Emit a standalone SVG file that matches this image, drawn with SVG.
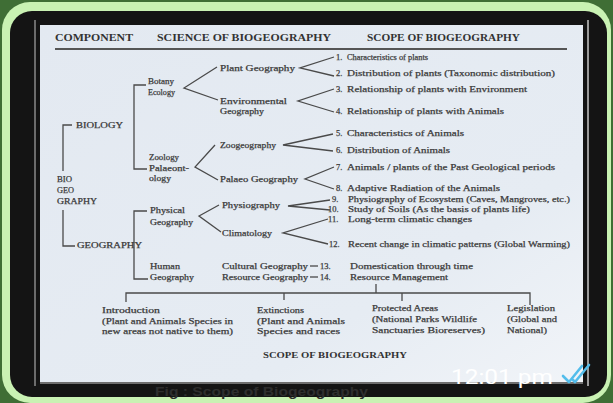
<svg xmlns="http://www.w3.org/2000/svg" width="613" height="403" viewBox="0 0 613 403">
<style>
.t{font-family:"Liberation Serif",serif;font-size:8.5px;fill:#333;stroke:#444;stroke-width:0.25;}
.h{font-family:"Liberation Serif",serif;font-size:10px;font-weight:bold;fill:#333;}
.c{fill:none;stroke:#4a4a4a;stroke-width:1.3;}
</style>
<defs>
<linearGradient id="paper" x1="0" y1="0" x2="1" y2="1">
<stop offset="0" stop-color="#e3e9f1"/>
<stop offset="0.7" stop-color="#e6ecf3"/>
<stop offset="1" stop-color="#f1f4f8"/>
</linearGradient>
</defs>
<rect width="613" height="403" fill="#3f6e35"/>
<rect x="2" y="2" width="609" height="401" rx="28" fill="#c9f2b3"/>
<rect x="10" y="11" width="597" height="386" rx="22" fill="#141414"/>
<line x1="35" y1="20" x2="35" y2="386" stroke="#8a8a8a" stroke-width="1.5"/>
<line x1="588" y1="20" x2="588" y2="386" stroke="#9a9a9a" stroke-width="2"/>
<rect x="40" y="25" width="543" height="357" fill="url(#paper)"/>
<line x1="40" y1="383" x2="583" y2="383" stroke="#8c8c8c" stroke-width="1.5"/>
<text x="155" y="396" font-family="Liberation Sans,sans-serif" font-size="12" font-weight="bold" fill="#2e2e2e" textLength="213" lengthAdjust="spacingAndGlyphs">Fig : Scope of Biogeography</text>

<g id="header">
<text class="h" x="55" y="41" textLength="78" lengthAdjust="spacingAndGlyphs">COMPONENT</text>
<text class="h" x="157" y="41" textLength="174" lengthAdjust="spacingAndGlyphs">SCIENCE OF BIOGEOGRAPHY</text>
<text class="h" x="367" y="41" textLength="153" lengthAdjust="spacingAndGlyphs">SCOPE OF BIOGEOGRAPHY</text>
<line x1="55" y1="49" x2="567" y2="49" stroke="#555" stroke-width="2"/>
</g>

<g id="connectors">
<path class="c" d="M72,125 H63 V171"/>
<path class="c" d="M63,210 V246 H75"/>
<path class="c" d="M146,85 H134 V169 H147"/>
<path class="c" d="M147,211 H134 V279 H148"/>
<path class="c" d="M217,67 L184,88 L218,100"/>
<path class="c" d="M215,145 L195,167 L218,180"/>
<path class="c" d="M219,205 L199,216 L221,232"/>
<path class="c" d="M334,57 L300,68 L334,76"/>
<path class="c" d="M334,89 L298,101 L334,112"/>
<path class="c" d="M333,134 L283,145 L333,151"/>
<path class="c" d="M334,167 L305,179 L334,189"/>
<path class="c" d="M330,200 L288,206 L330,210"/>
<path class="c" d="M328,219 L283,233 L328,244"/>
<path class="c" d="M310,266 H318"/>
<path class="c" d="M310,277 H318"/>
<path class="c" d="M126,302 V293 H530 V305"/>
<path class="c" d="M284,293 V300"/>
<path class="c" d="M402,293 V301"/>
<path class="c" d="M376,284 V293"/>
</g>

<g id="biogeography">
<text class="t" x="57" y="182" textLength="15" lengthAdjust="spacingAndGlyphs">BIO</text>
<text class="t" x="57" y="193" textLength="17" lengthAdjust="spacingAndGlyphs">GEO</text>
<text class="t" x="57" y="204" textLength="40" lengthAdjust="spacingAndGlyphs">GRAPHY</text>
</g>
<g id="biology"><text class="t" x="76" y="128" textLength="47" lengthAdjust="spacingAndGlyphs">BIOLOGY</text></g>
<g id="geography"><text class="t" x="77" y="248" textLength="65" lengthAdjust="spacingAndGlyphs">GEOGRAPHY</text></g>

<g id="botany-ecology">
<text class="t" x="148" y="84" textLength="26" lengthAdjust="spacingAndGlyphs">Botany</text>
<text class="t" x="148" y="95" textLength="27" lengthAdjust="spacingAndGlyphs">Ecology</text>
</g>
<g id="zoology">
<text class="t" x="149" y="160" textLength="30" lengthAdjust="spacingAndGlyphs">Zoology</text>
<text class="t" x="149" y="171" textLength="40" lengthAdjust="spacingAndGlyphs">Palaeont-</text>
<text class="t" x="149" y="181" textLength="22" lengthAdjust="spacingAndGlyphs">ology</text>
</g>
<g id="physical-geography">
<text class="t" x="150" y="213" textLength="35" lengthAdjust="spacingAndGlyphs">Physical</text>
<text class="t" x="150" y="225" textLength="43" lengthAdjust="spacingAndGlyphs">Geography</text>
</g>
<g id="human-geography">
<text class="t" x="150" y="269" textLength="30" lengthAdjust="spacingAndGlyphs">Human</text>
<text class="t" x="150" y="280" textLength="44" lengthAdjust="spacingAndGlyphs">Geography</text>
</g>

<g id="plant-geography"><text class="t" x="220" y="71" textLength="75" lengthAdjust="spacingAndGlyphs">Plant Geography</text></g>
<g id="environmental-geography">
<text class="t" x="220" y="104" textLength="67" lengthAdjust="spacingAndGlyphs">Environmental</text>
<text class="t" x="220" y="114" textLength="44" lengthAdjust="spacingAndGlyphs">Geography</text>
</g>
<g id="zoogeography"><text class="t" x="220" y="148" textLength="56" lengthAdjust="spacingAndGlyphs">Zoogeography</text></g>
<g id="palaeo-geography"><text class="t" x="220" y="182" textLength="78" lengthAdjust="spacingAndGlyphs">Palaeo Geography</text></g>
<g id="physiography"><text class="t" x="222" y="208" textLength="58" lengthAdjust="spacingAndGlyphs">Physiography</text></g>
<g id="climatology"><text class="t" x="222" y="236" textLength="50" lengthAdjust="spacingAndGlyphs">Climatology</text></g>
<g id="cultural-geography"><text class="t" x="222" y="269" textLength="86" lengthAdjust="spacingAndGlyphs">Cultural Geography</text></g>
<g id="resource-geography"><text class="t" x="222" y="280" textLength="86" lengthAdjust="spacingAndGlyphs">Resource Geography</text></g>

<g id="items">
<g id="item1"><text class="t" x="336" y="60">1.</text><text class="t" x="347" y="60" textLength="81" lengthAdjust="spacingAndGlyphs">Characteristics of plants</text></g>
<g id="item2"><text class="t" x="336" y="76">2.</text><text class="t" x="347" y="76" textLength="208" lengthAdjust="spacingAndGlyphs">Distribution of plants (Taxonomic distribution)</text></g>
<g id="item3"><text class="t" x="336" y="92">3.</text><text class="t" x="347" y="92" textLength="180" lengthAdjust="spacingAndGlyphs">Relationship of plants with Environment</text></g>
<g id="item4"><text class="t" x="336" y="114">4.</text><text class="t" x="347" y="114" textLength="157" lengthAdjust="spacingAndGlyphs">Relationship of plants with Animals</text></g>
<g id="item5"><text class="t" x="336" y="136">5.</text><text class="t" x="347" y="136" textLength="117" lengthAdjust="spacingAndGlyphs">Characteristics of Animals</text></g>
<g id="item6"><text class="t" x="336" y="153">6.</text><text class="t" x="347" y="153" textLength="103" lengthAdjust="spacingAndGlyphs">Distribution of Animals</text></g>
<g id="item7"><text class="t" x="336" y="170">7.</text><text class="t" x="347" y="170" textLength="208" lengthAdjust="spacingAndGlyphs">Animals / plants of the Past Geological periods</text></g>
<g id="item8"><text class="t" x="336" y="191">8.</text><text class="t" x="347" y="191" textLength="153" lengthAdjust="spacingAndGlyphs">Adaptive Radiation of the Animals</text></g>
<g id="item9"><text class="t" x="332" y="202">9.</text><text class="t" x="348" y="202" textLength="222" lengthAdjust="spacingAndGlyphs">Physiography of Ecosystem (Caves, Mangroves, etc.)</text></g>
<g id="item10"><text class="t" x="328" y="212">10.</text><text class="t" x="348" y="212" textLength="182" lengthAdjust="spacingAndGlyphs">Study of Soils (As the basis of plants life)</text></g>
<g id="item11"><text class="t" x="328" y="222">11.</text><text class="t" x="348" y="222" textLength="124" lengthAdjust="spacingAndGlyphs">Long-term climatic changes</text></g>
<g id="item12"><text class="t" x="329" y="247">12.</text><text class="t" x="348" y="247" textLength="222" lengthAdjust="spacingAndGlyphs">Recent change in climatic patterns (Global Warming)</text></g>
<g id="item13"><text class="t" x="320" y="269">13.</text><text class="t" x="350" y="269" textLength="123" lengthAdjust="spacingAndGlyphs">Domestication through time</text></g>
<g id="item14"><text class="t" x="320" y="280">14.</text><text class="t" x="350" y="280" textLength="98" lengthAdjust="spacingAndGlyphs">Resource Management</text></g>
</g>

<g id="introduction">
<text class="t" x="102" y="313" textLength="58" lengthAdjust="spacingAndGlyphs">Introduction</text>
<text class="t" x="102" y="324" textLength="131" lengthAdjust="spacingAndGlyphs">(Plant and Animals Species in</text>
<text class="t" x="102" y="334" textLength="131" lengthAdjust="spacingAndGlyphs">new areas not native to them)</text>
</g>
<g id="extinctions">
<text class="t" x="257" y="313" textLength="47" lengthAdjust="spacingAndGlyphs">Extinctions</text>
<text class="t" x="257" y="324" textLength="88" lengthAdjust="spacingAndGlyphs">(Plant and Animals</text>
<text class="t" x="257" y="334" textLength="83" lengthAdjust="spacingAndGlyphs">Species and races</text>
</g>
<g id="protected-areas">
<text class="t" x="372" y="311" textLength="66" lengthAdjust="spacingAndGlyphs">Protected Areas</text>
<text class="t" x="372" y="322" textLength="105" lengthAdjust="spacingAndGlyphs">(National Parks Wildlife</text>
<text class="t" x="372" y="333" textLength="113" lengthAdjust="spacingAndGlyphs">Sanctuaries Bioreserves)</text>
</g>
<g id="legislation">
<text class="t" x="507" y="311" textLength="48" lengthAdjust="spacingAndGlyphs">Legislation</text>
<text class="t" x="507" y="322" textLength="50" lengthAdjust="spacingAndGlyphs">(Global and</text>
<text class="t" x="507" y="333" textLength="40" lengthAdjust="spacingAndGlyphs">National)</text>
</g>
<g id="footer">
<text class="h" x="263" y="358" textLength="144" lengthAdjust="spacingAndGlyphs" style="font-size:8.5px">SCOPE OF BIOGEOGRAPHY</text>
</g>

<g id="timestamp">
<text x="451" y="384" font-family="Roboto,sans-serif" font-size="21" fill="#ffffff" textLength="102" lengthAdjust="spacingAndGlyphs">12:01 pm</text>
<path d="M563,376 L569,382 L582,366 M573,380 L575,382 L589,365" fill="none" stroke="#53bdeb" stroke-width="2.6" stroke-linecap="round" stroke-linejoin="round"/>
</g>
</svg>
